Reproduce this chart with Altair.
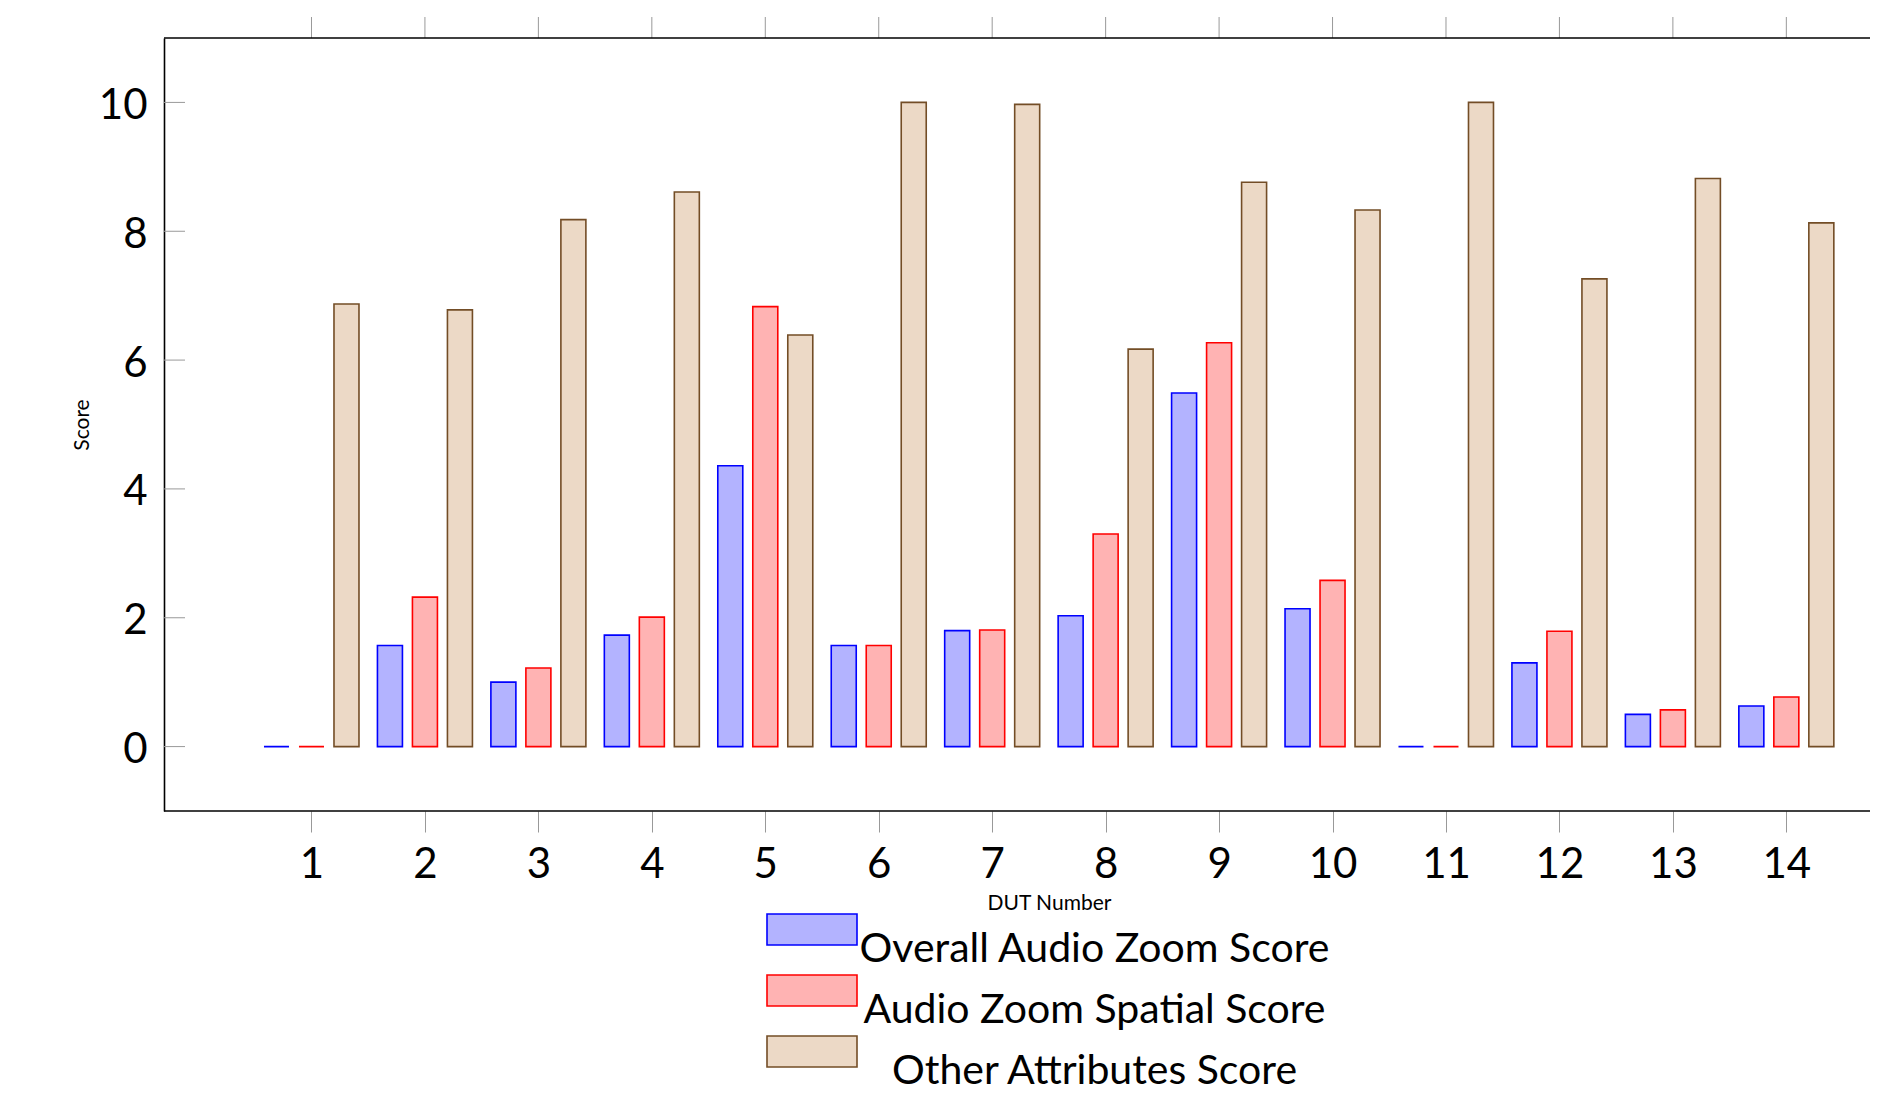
import altair as alt
import pandas as pd

# ---- data ----
duts = list(range(1, 15))
overall = [0.0, 1.57, 1.00, 1.73, 4.36, 1.57, 1.80, 2.03, 5.49, 2.14, 0.0, 1.30, 0.50, 0.63]
spatial = [0.0, 2.32, 1.22, 2.01, 6.83, 1.57, 1.81, 3.30, 6.27, 2.58, 0.0, 1.79, 0.57, 0.77]
other = [6.87, 6.78, 8.18, 8.61, 6.39, 10.0, 9.97, 6.17, 8.76, 8.33, 10.0, 7.26, 8.82, 8.13]
series_names = ["Overall Audio Zoom Score", "Audio Zoom Spatial Score", "Other Attributes Score"]
y_ticks = [0, 2, 4, 6, 8, 10]

# ---- styles ----
fills = ["#b3b3ff", "#ffb3b3", "#ecd9c6"]
strokes = ["#0000ff", "#ff0000", "#734d26"]
group_shift = [-0.3085, 0.0, 0.3085]

W, H = 1700, 773
PX_PER_UNIT = 113.45
xdom = [-0.3, -0.3 + W / PX_PER_UNIT]
ydom = [-1, 11]
PAD_R = 6

rows = []
for s_i, (name, vals) in enumerate(zip(series_names, [overall, spatial, other])):
    for d, v in zip(duts, vals):
        rows.append({"dut": d, "series": name, "value": v, "pos": d + group_shift[s_i]})
df = pd.DataFrame(rows)

xscale = alt.Scale(domain=xdom, nice=False, zero=False, padding=0)
yscale = alt.Scale(domain=ydom, nice=False, zero=False, padding=0)

xaxis = alt.Axis(
    values=duts, format="d", tickSize=21, tickColor="#999999", tickWidth=1,
    labelFont="Lato", labelFontSize=42, labelColor="black", labelPadding=12,
    labelBaseline="top", labelFlush=False, labelOverlap=False,
    domain=False, grid=False,
    title="DUT Number", titleFont="Lato", titleFontSize=21, titleFontWeight="normal",
    titleColor="black", titleX=885, titleY=98, titleBaseline="alphabetic", titleAlign="center")
yaxis = alt.Axis(
    values=y_ticks, ticks=False, labelPadding=17,
    labelFont="Lato", labelFontSize=42, labelColor="black", labelFlush=False, labelOffset=3,
    domain=True, domainColor="black", domainWidth=1.6, grid=False,
    title="Score", titleFont="Lato", titleFontSize=21, titleFontWeight="normal",
    titleColor="black", titleX=-76, titleY=H / 2, titleAngle=270,
    titleAlign="center", titleBaseline="alphabetic")

legend = alt.Legend(
    orient="none", legendX=627.5, legendY=871, title=None, direction="vertical",
    symbolType="M-4.5,-1.55L4.5,-1.55L4.5,1.55L-4.5,1.55Z", symbolSize=400,
    symbolStrokeWidth=1.6, symbolOpacity=1,
    labelFont="Lato", labelFontSize=41, labelColor="black", labelAlign="center",
    labelBaseline="top", labelOffset=262, labelLimit=1000, rowPadding=0, padding=0,
)

bars = alt.Chart(df).mark_bar(size=25, strokeWidth=1.6, fillOpacity=1, opacity=1).encode(
    x=alt.X("pos:Q", scale=xscale, axis=xaxis),
    y=alt.Y("value:Q", scale=yscale, axis=yaxis),
    y2=alt.datum(0),
    color=alt.Color("series:N", scale=alt.Scale(domain=series_names, range=fills), legend=legend),
    stroke=alt.Stroke("series:N", scale=alt.Scale(domain=series_names, range=strokes), legend=legend),
)

ytick_layer = alt.Chart(pd.DataFrame({"value": y_ticks})).mark_rule(color="#999999", strokeWidth=1).encode(
    y=alt.Y("value:Q", scale=yscale, axis=yaxis), x=alt.value(0), x2=alt.value(21))

xtick_top = alt.Chart(pd.DataFrame({"pos": duts})).mark_rule(color="#999999", strokeWidth=1).encode(
    x=alt.X("pos:Q", scale=xscale, axis=xaxis), y=alt.value(-21), y2=alt.value(0))

one = pd.DataFrame({"a": [0]})
frame_top = alt.Chart(one).mark_rule(color="black", strokeWidth=1.6).encode(
    x=alt.value(0), x2=alt.value(W + PAD_R), y=alt.value(0))
frame_bottom = alt.Chart(one).mark_rule(color="black", strokeWidth=1.6).encode(
    x=alt.value(0), x2=alt.value(W + PAD_R), y=alt.value(H))

chart = alt.layer(bars, ytick_layer, xtick_top, frame_top, frame_bottom).properties(
    width=W, height=H,
    autosize=alt.AutoSizeParams(type="none"),
    padding={"left": 156, "top": 30, "right": PAD_R, "bottom": 280},
).configure_view(stroke=None)

chart.save("out.html", embed_options={"renderer": "svg", "actions": False})
